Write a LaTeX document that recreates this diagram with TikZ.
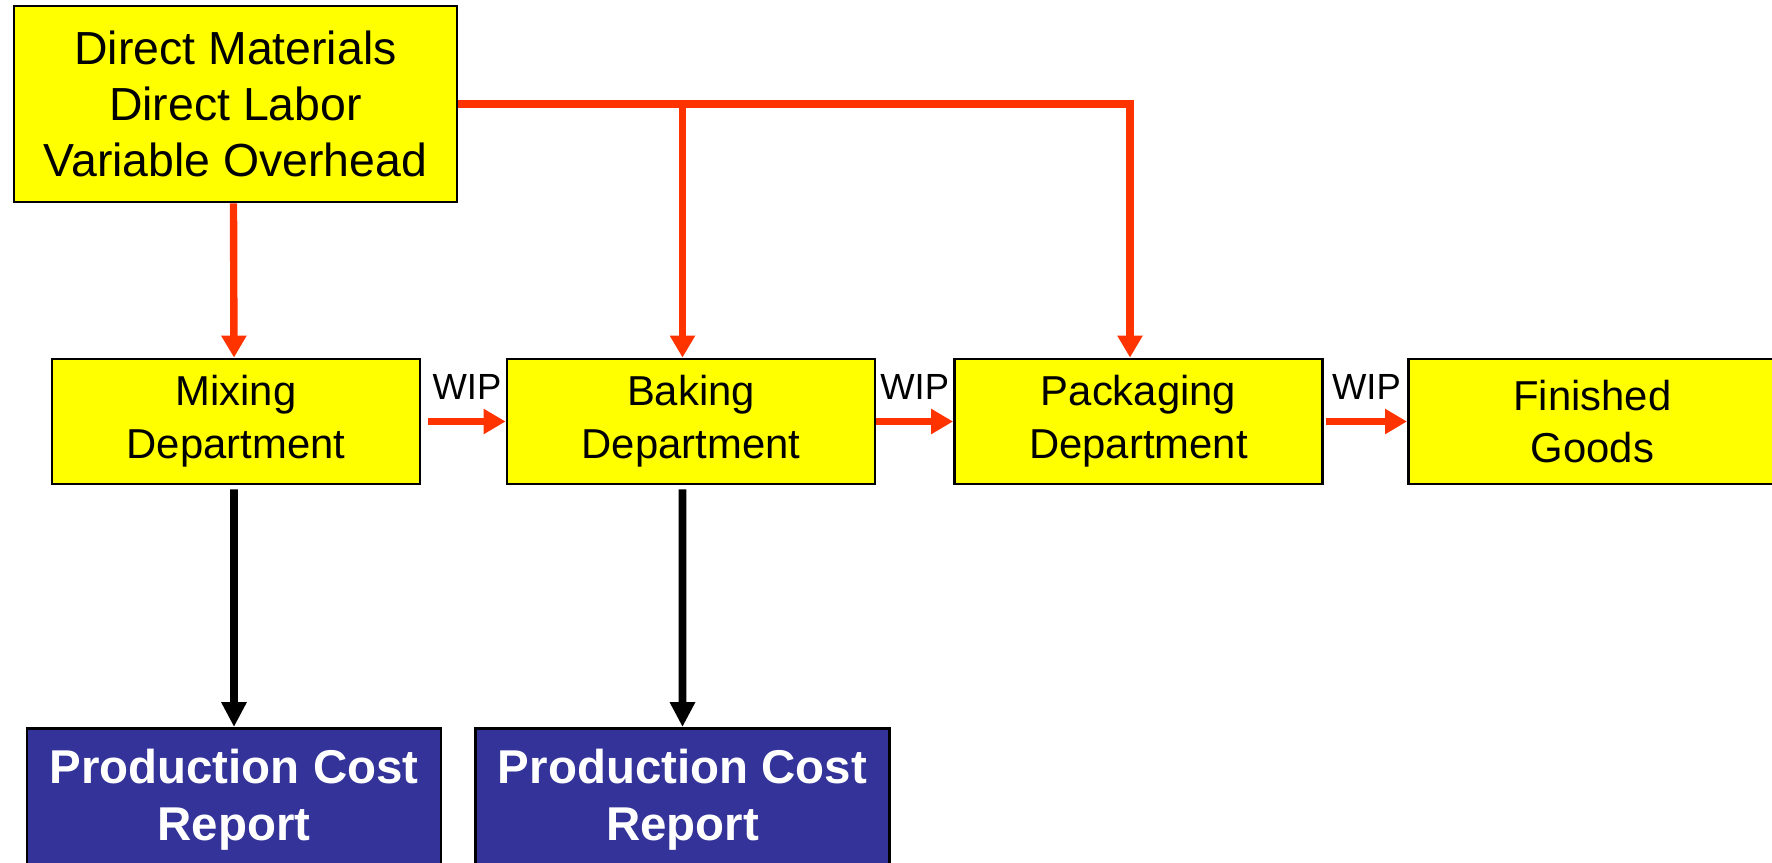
\documentclass[tikz,border=0pt]{standalone}
\usepackage{fontspec}
\setmainfont{Liberation Sans}
\usetikzlibrary{arrows.meta, positioning}
\definecolor{flowred}{HTML}{FF3300}
\definecolor{deptyellow}{HTML}{FFFF00}
\definecolor{reportblue}{HTML}{333399}

\begin{document}
\begin{tikzpicture}[
                dept style/.style={rectangle, draw=black, line width=1.6pt, fill=deptyellow, minimum width=7.36cm, minimum height=2.5cm, align=center, font=\fontsize{23.8}{30}\selectfont},
                cost style/.style={rectangle, draw=black, line width=1.6pt, fill=reportblue, text=white, minimum width=8.28cm, minimum height=2.85cm, align=center, font=\bfseries\fontsize{27}{32}\selectfont},
                red flow/.style={draw=flowred, line width=4.2pt, -{Triangle[length=0.44cm, width=0.48cm]}},
                black flow/.style={draw=black, line width=4.4pt, -{Triangle[length=0.5cm, width=0.48cm]}},
                wip/.style={inner sep=0pt, font=\fontsize{20.7}{24}\selectfont}
]
    \useasboundingbox (0,0) rectangle (35.44,-17.26);

    % Cost inputs
        \node[dept style, minimum width=8.86cm, minimum height=3.92cm, font=\fontsize{26.4}{32}\selectfont] (inputs) at (4.71,-2.08) {Direct Materials\\Direct Labor\\Variable Overhead};

    % Departments in a row
        \node[dept style] (mixing) at (4.72,-8.43) {Mixing\\Department};
        \node[dept style] (baking) at (13.82,-8.43) {Baking\\Department};
        \node[dept style] (packaging) at (22.77,-8.43) {Packaging\\Department};
        \node[dept style, anchor=west] (finished) at (28.14,-8.43) {Finished\\Goods};

    % Reports below the first two departments
        \node[cost style, anchor=north] (report1) at (4.68,-14.54) {Production Cost\\Report};
        \node[cost style, anchor=north] (report2) at (13.65,-14.54) {Production Cost\\Report};

    % Costs added in each department
        \draw[red flow] ([xshift=-0.04cm]inputs.south) -- ([xshift=-0.04cm]mixing.north);
        \draw[red flow] (inputs.east) -| ([xshift=-0.17cm]packaging.north);
        \draw[red flow] ([xshift=-0.17cm]baking.north |- inputs.east) -- ([xshift=-0.17cm]baking.north);

    % WIP transfers
        \draw[red flow] ([xshift=0.14cm]mixing.east) -- node[wip, above=0.37cm] {WIP} (baking.west);
        \draw[red flow] (baking.east) -- node[wip, above=0.37cm] {WIP} (packaging.west);
        \draw[red flow] ([xshift=0.04cm]packaging.east) -- node[wip, above=0.37cm] {WIP} (finished.west);

    % Reports
        \draw[black flow] ([xshift=-0.04cm, yshift=-0.08cm]mixing.south) -- (report1.north);
        \draw[black flow] ([xshift=-0.17cm, yshift=-0.08cm]baking.south) -- (report2.north);
\end{tikzpicture}
\end{document}
